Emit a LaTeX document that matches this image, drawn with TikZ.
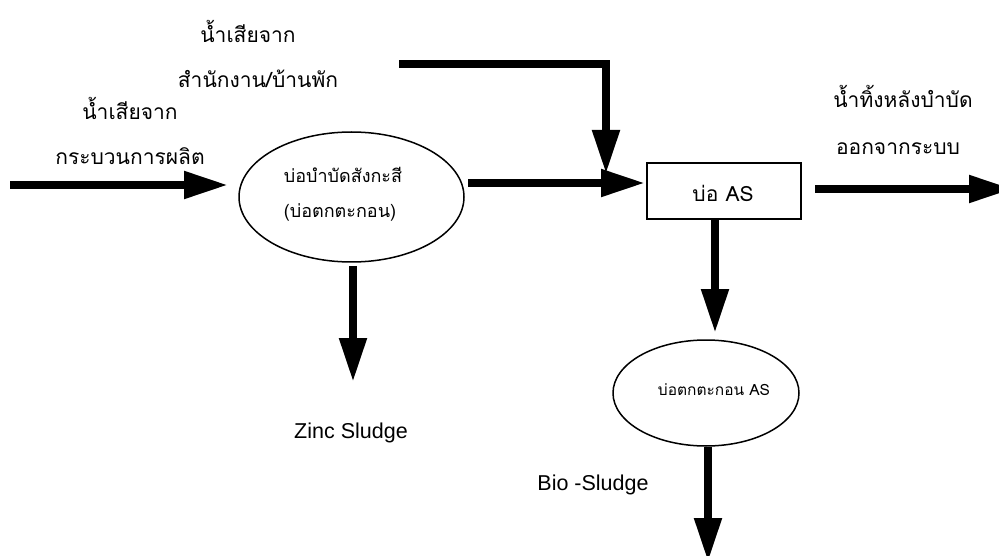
\documentclass[tikz,border=0pt]{standalone}
\usepackage{fontspec}
\setmainfont{Loma}[Script=Thai]
\newfontfamily\latinfont{Liberation Sans}
\usetikzlibrary{arrows.meta,shapes.geometric}
\begin{document}
\begin{tikzpicture}[x=1pt,y=-1pt,
  flow/.style={line width=8pt,-{Triangle[length=44pt,width=26pt]}},
  lbl/.style={inner sep=0pt, anchor=base, font=\fontsize{21}{24}\selectfont},
  latlbl/.style={inner sep=0pt, anchor=base, font=\latinfont\fontsize{21.5}{24}\selectfont},
  intext/.style={inner sep=0pt, anchor=base},
  pond/.style={ellipse, draw, line width=1.5pt, inner sep=0pt},
  tank/.style={rectangle, draw, line width=1.3pt, inner sep=0pt}
]
\useasboundingbox (0,0) rectangle (999,556);

% nodes
\node[pond, minimum width=225pt, minimum height=130pt] (e1) at (351.5,197) {};
\node[intext, font=\fontsize{18}{20}\selectfont] (e1a) at (343,183) {บ่อบำบัดสังกะสี};
\node[intext, font=\fontsize{18}{20}\selectfont] (e1b) at (340,218) {(บ่อตกตะกอน)};
\node[tank, minimum width=154pt, minimum height=56pt] (box) at (724,191) {};
\node[intext, font=\fontsize{21}{24}\selectfont] (boxt) at (723,202) {บ่อ AS};
\node[pond, minimum width=186pt, minimum height=106pt] (e2) at (706,393) {};
\node[intext, font=\fontsize{15.5}{18}\selectfont] (e2t) at (714,395) {บ่อตกตะกอน AS};

% labels
\node[lbl] (l1) at (248,43) {น้ำเสียจาก};
\node[lbl] (l2) at (258,88) {สำนักงาน/บ้านพัก};
\node[lbl] (l3) at (130,120) {น้ำเสียจาก};
\node[lbl] (l4) at (130,165) {กระบวนการผลิต};
\node[lbl] (l5) at (903,108) {น้ำทิ้งหลังบำบัด};
\node[lbl] (l6) at (898,155) {ออกจากระบบ};
\node[latlbl] (l7) at (351,438) {Zinc Sludge};
\node[latlbl] (l8) at (593,490) {Bio -Sludge};

% coordinates
\coordinate (s1) at (10,185);
\coordinate (t1) at (228,185);
\coordinate (s2) at (399,64);
\coordinate (c2) at (606,64);
\coordinate (t2) at (606,174);
\coordinate (s3) at (468,183);
\coordinate (t3) at (645,183);
\coordinate (s4) at (815,189);
\coordinate (t4) at (1013,189);
\coordinate (s5) at (715,219);
\coordinate (t5) at (715,333);
\coordinate (s6) at (353,266);
\coordinate (t6) at (353,382);
\coordinate (s7) at (708,447);
\coordinate (t7) at (708,562);

% connectors
\draw[flow] (s1) -- (t1);
\draw[flow] (s2) -- (c2) -- (t2);
\draw[flow] (s3) -- (t3);
\draw[flow] (s4) -- (t4);
\draw[flow] (s5) -- (t5);
\draw[flow] (s6) -- (t6);
\draw[flow] (s7) -- (t7);
\end{tikzpicture}
\end{document}
